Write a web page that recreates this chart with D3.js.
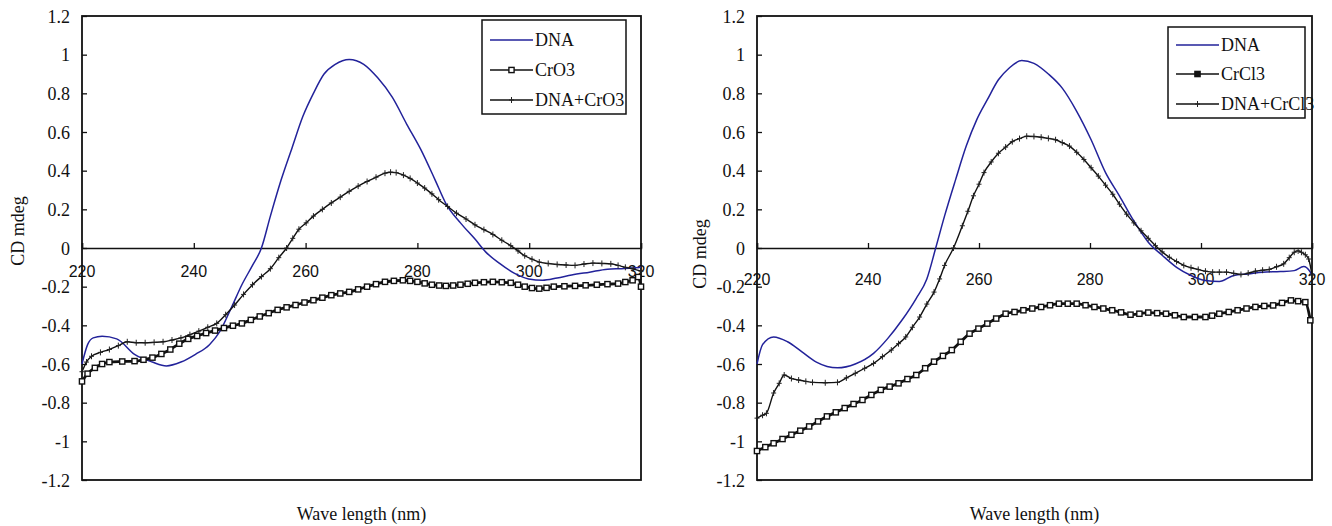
<!DOCTYPE html>
<html>
<head>
<meta charset="utf-8">
<script src="https://cdn.jsdelivr.net/npm/d3@7"></script>
<style>
  body { margin: 0; background: #fff; }
  svg { display: block; }
</style>
</head>
<body>
<svg id="chart" width="1332" height="526"></svg>
<script>
// Axis ticks shared by both panels
const yTickValues = [1.2, 1, 0.8, 0.6, 0.4, 0.2, 0, -0.2, -0.4, -0.6, -0.8, -1, -1.2];
const xTickValues = [220, 240, 260, 280, 300, 320];
const xTitle = "Wave length (nm)";
const yTitle = "CD mdeg";

// Left panel: DNA, CrO3, DNA+CrO3  ([wavelength nm, CD mdeg])
const dnaA = [
  [220,-0.60],[221,-0.50],[222,-0.465],[223.6,-0.457],[226.2,-0.47],[229.4,-0.55],[232.6,-0.59],
  [235.1,-0.61],[237.7,-0.59],[240.3,-0.55],[242.8,-0.50],[244.7,-0.43],[246.7,-0.31],
  [248.6,-0.19],[250.5,-0.09],[252.1,0],[253.7,0.165],[255.6,0.35],[257.6,0.52],[259.5,0.68],
  [261.4,0.80],[263.3,0.90],[265.3,0.95],[267.8,0.975],[270.4,0.95],[272.9,0.88],[275.5,0.78],
  [278.1,0.64],[280.6,0.51],[283.2,0.35],[285.1,0.23],[287.7,0.13],[290.3,0.046],[292.2,-0.02],
  [294.7,-0.08],[297.3,-0.13],[299.9,-0.16],[302.4,-0.167],[305,-0.155],[307.6,-0.14],
  [310.8,-0.125],[314,-0.11],[316.5,-0.107],[318.5,-0.104],[320,-0.10]
];
const crO3 = [
  [220,-0.69],[221,-0.65],[222.3,-0.62],[223.6,-0.60],[224.9,-0.59],[227.2,-0.587],[229.4,-0.585],
  [231,-0.578],[232.6,-0.567],[234.2,-0.548],[235.8,-0.525],[237.4,-0.495],[239,-0.47],
  [240.6,-0.455],[242.2,-0.44],[243.8,-0.427],[245.4,-0.414],[247,-0.402],[248.6,-0.39],
  [250.2,-0.372],[251.8,-0.354],[253.4,-0.337],[255,-0.32],[256.6,-0.307],[258.2,-0.295],
  [259.8,-0.282],[261.4,-0.27],[263,-0.257],[264.6,-0.244],[266.2,-0.235],[267.8,-0.227],
  [269.4,-0.214],[271,-0.20],[272.6,-0.187],[274.2,-0.175],[275.8,-0.17],[277.4,-0.167],
  [278.7,-0.17],[280,-0.175],[281.3,-0.183],[282.6,-0.19],[283.9,-0.194],[285.1,-0.196],
  [286.4,-0.194],[287.7,-0.19],[289,-0.185],[290.3,-0.18],[291.9,-0.177],[293.5,-0.175],
  [295.1,-0.177],[296.7,-0.18],[298,-0.19],[299.2,-0.20],[300.5,-0.207],[301.8,-0.21],
  [303.1,-0.206],[304.4,-0.20],[306.3,-0.198],[308.2,-0.196],[310.1,-0.193],[312.1,-0.19],
  [314,-0.187],[315.9,-0.184],[317.2,-0.176],[318.5,-0.167],[319.5,-0.15],[320,-0.20]
];
const dnaCrO3 = [
  [220,-0.64],[220.8,-0.59],[221.7,-0.56],[223.3,-0.54],[224.9,-0.525],[226.5,-0.505],
  [228.1,-0.485],[229.7,-0.49],[231.3,-0.49],[232.9,-0.488],[234.5,-0.485],[236.1,-0.476],
  [237.7,-0.465],[239.3,-0.448],[240.9,-0.43],[242.5,-0.41],[244.1,-0.39],[245.7,-0.345],
  [247.3,-0.295],[248.9,-0.24],[250.5,-0.19],[252.1,-0.148],[253.7,-0.107],[255.2,-0.05],
  [256.6,0],[257.7,0.05],[258.8,0.097],[260.1,0.13],[261.4,0.165],[263,0.2],[264.6,0.233],
  [266.2,0.263],[267.8,0.293],[269.4,0.32],[271,0.344],[272.6,0.366],[274.2,0.387],
  [275.2,0.392],[276.2,0.39],[277.5,0.377],[278.7,0.36],[280,0.336],[281.3,0.31],
  [282.6,0.28],[283.8,0.25],[285.4,0.215],[287,0.18],[288.7,0.15],[290.3,0.12],[291.9,0.095],
  [293.5,0.07],[295.1,0.04],[296.7,0.012],[298,-0.015],[299.2,-0.04],[300.5,-0.058],
  [301.8,-0.073],[303.4,-0.08],[305,-0.085],[306.6,-0.088],[308.2,-0.09],[309.8,-0.083],
  [311.4,-0.078],[313,-0.08],[314.6,-0.082],[315.9,-0.09],[317.2,-0.10],[318.6,-0.108],[320,-0.12]
];

// Right panel: DNA, CrCl3, DNA+CrCl3
const dnaB = [
  [220,-0.60],[221,-0.50],[223,-0.46],[225.5,-0.485],[228.1,-0.537],[230.7,-0.59],[234.5,-0.62],
  [237.7,-0.60],[241,-0.545],[243.5,-0.47],[246.1,-0.374],[248.7,-0.26],[250.6,-0.16],
  [252.2,0],[253.8,0.166],[255.8,0.355],[257.7,0.527],[259.6,0.664],[261.5,0.767],[263.5,0.87],
  [265.4,0.93],[267.7,0.97],[269.9,0.955],[272.5,0.90],[275,0.827],[277.6,0.707],[280.2,0.56],
  [282.8,0.39],[285.3,0.27],[287.9,0.14],[290.5,0.03],[293.1,-0.04],[295.6,-0.10],[298.2,-0.142],
  [300.8,-0.168],[303.3,-0.173],[305.9,-0.142],[308.5,-0.134],[311.1,-0.125],[314.3,-0.122],
  [316.8,-0.117],[318.5,-0.096],[319.7,-0.125],[320,-0.14]
];
const crCl3 = [
  [220,-1.05],[221.5,-1.03],[223,-1.01],[224.6,-0.988],[226.2,-0.966],[227.8,-0.945],
  [229.4,-0.923],[231,-0.897],[232.6,-0.871],[234.2,-0.85],[235.8,-0.828],[237.4,-0.807],
  [239,-0.786],[240.6,-0.76],[242.3,-0.734],[243.9,-0.717],[245.5,-0.70],[247.1,-0.678],
  [248.7,-0.657],[250.3,-0.622],[251.9,-0.588],[253.5,-0.558],[255.1,-0.528],[256.7,-0.485],
  [258.3,-0.443],[259.9,-0.417],[261.5,-0.391],[263.1,-0.365],[264.8,-0.34],[266.4,-0.331],
  [268,-0.322],[269.6,-0.313],[271.2,-0.305],[272.8,-0.296],[274.4,-0.288],[276,-0.288],
  [277.6,-0.288],[279.2,-0.296],[280.8,-0.305],[282.4,-0.313],[284,-0.322],[285.6,-0.333],
  [287.3,-0.345],[288.9,-0.34],[290.5,-0.334],[292.1,-0.337],[293.7,-0.34],[295.3,-0.348],
  [296.9,-0.357],[298.9,-0.357],[300.8,-0.357],[302,-0.35],[303.3,-0.34],[305,-0.331],
  [306.6,-0.322],[308.2,-0.313],[309.8,-0.305],[311.4,-0.30],[313,-0.297],[314.6,-0.284],
  [316.2,-0.271],[317.5,-0.275],[318.8,-0.28],[319.7,-0.374]
];
const dnaCrCl3 = [
  [220,-0.88],[221,-0.865],[221.7,-0.855],[223,-0.75],[224,-0.70],[224.9,-0.657],[226.2,-0.675],
  [227.5,-0.683],[228.8,-0.69],[230,-0.695],[232.3,-0.697],[234.5,-0.695],[236.1,-0.672],
  [237.7,-0.648],[239.4,-0.622],[241,-0.597],[242.6,-0.562],[244.2,-0.528],[245.5,-0.495],
  [246.8,-0.46],[248,-0.41],[249.3,-0.357],[250.6,-0.29],[251.9,-0.228],[252.9,-0.16],
  [253.8,-0.09],[255.4,0],[257,0.115],[258,0.19],[259,0.27],[260,0.33],[260.9,0.39],
  [262.2,0.445],[263.5,0.49],[264.8,0.522],[266,0.55],[267.3,0.566],[268.6,0.578],
  [269.9,0.577],[271.2,0.573],[272.5,0.567],[273.8,0.56],[275,0.545],[276.3,0.527],
  [277.6,0.495],[278.9,0.458],[280.2,0.415],[281.5,0.372],[282.8,0.325],[284.1,0.278],
  [285.3,0.227],[286.6,0.175],[287.9,0.13],[289.2,0.089],[290.5,0.05],[291.8,0.012],
  [293,-0.02],[294.3,-0.048],[295.6,-0.07],[296.9,-0.09],[298.2,-0.102],[299.5,-0.111],
  [300.8,-0.12],[302.1,-0.125],[303.3,-0.125],[304.6,-0.125],[305.9,-0.131],[307.2,-0.137],
  [308.5,-0.13],[309.8,-0.12],[311.1,-0.115],[312.3,-0.111],[313.6,-0.097],[314.9,-0.082],
  [315.9,-0.05],[316.8,-0.022],[317.5,-0.015],[318.1,-0.022],[318.8,-0.035],[319.4,-0.057],[320,-0.14]
];

const blue = "#22229a";
const serif = '"Liberation Serif", "DejaVu Serif", "Times New Roman", serif';
const sans = '"Liberation Sans", Arial, sans-serif';

const panels = [
  {
    left: 82, right: 641, top: 16, bottom: 480,
    xLabelY: 277, yLabelX: 70, yTitleX: 18, yTitleY: 231, xTitleY: 520,
    legend: { x: 482, y: 20, w: 144, h: 94, rows: [40, 70, 100] },
    series: [
      { name: "DNA", data: dnaA, kind: "plain" },
      { name: "CrO3", data: crO3, kind: "square" },
      { name: "DNA+CrO3", data: dnaCrO3, kind: "cross" }
    ]
  },
  {
    left: 757, right: 1312, top: 16, bottom: 480,
    xLabelY: 285, yLabelX: 745, yTitleX: 700, yTitleY: 254, xTitleY: 520,
    legend: { x: 1168, y: 27, w: 137, h: 91, rows: [45, 74, 104] },
    series: [
      { name: "DNA", data: dnaB, kind: "plain" },
      { name: "CrCl3", data: crCl3, kind: "square", legendFilled: true },
      { name: "DNA+CrCl3", data: dnaCrCl3, kind: "cross" }
    ]
  }
];

const svg = d3.select("#chart");

function drawMarkers(g, pts, kind, filled) {
  if (kind === "square") {
    g.selectAll("rect.m").data(pts).join("rect")
      .attr("class", "m")
      .attr("x", d => d[0] - 2.6).attr("y", d => d[1] - 2.6)
      .attr("width", 5.2).attr("height", 5.2)
      .attr("fill", filled ? "#111" : "#fff")
      .attr("stroke", "#111").attr("stroke-width", 1.4);
  } else if (kind === "cross") {
    g.selectAll("path.m").data(pts).join("path")
      .attr("class", "m")
      .attr("d", d => `M${d[0] - 2.5},${d[1]}H${d[0] + 2.5}M${d[0]},${d[1] - 3}V${d[1] + 3}`)
      .attr("stroke", "#222").attr("stroke-width", 1);
  }
}

panels.forEach(p => {
  const x = d3.scaleLinear().domain([220, 320]).range([p.left, p.right]);
  const y = d3.scaleLinear().domain([-1.2, 1.2]).range([p.bottom, p.top]);
  const g = svg.append("g").attr("font-family", serif);

  // Plot frame
  g.append("rect")
    .attr("x", p.left).attr("y", p.top)
    .attr("width", p.right - p.left).attr("height", p.bottom - p.top)
    .attr("fill", "none").attr("stroke", "#111").attr("stroke-width", 1.8);

  // Y axis: inward ticks, labels to the left
  const yAxis = d3.axisRight(y).tickValues(yTickValues).tickSize(5).tickFormat(d => String(d));
  const ya = g.append("g").attr("transform", `translate(${p.left},0)`).call(yAxis)
    .attr("font-family", serif).attr("font-size", 18);
  ya.select(".domain").remove();
  ya.selectAll(".tick line").attr("stroke", "#111").attr("stroke-width", 1.3);
  ya.selectAll(".tick text")
    .attr("x", p.yLabelX - p.left).attr("dy", "0.35em")
    .attr("text-anchor", "end")
    .attr("fill", "#111");

  // Zero line with upward ticks
  const xAxis = d3.axisTop(x).tickValues(xTickValues).tickSize(5).tickFormat("");
  const xa = g.append("g").attr("transform", `translate(0,${y(0)})`).call(xAxis);
  xa.select(".domain").attr("stroke", "#111").attr("stroke-width", 1.5);
  xa.selectAll(".tick line").attr("stroke", "#111").attr("stroke-width", 1.3);

  // X tick labels just under the zero line
  g.append("g").attr("font-family", sans).attr("font-size", 16)
    .selectAll("text").data(xTickValues).join("text")
    .attr("x", d => x(d)).attr("y", p.xLabelY)
    .attr("text-anchor", "middle").attr("fill", "#111")
    .text(d => d);

  // Series
  const line = d3.line().x(d => x(d[0])).y(d => y(d[1])).curve(d3.curveMonotoneX);
  p.series.forEach(s => {
    const sg = g.append("g");
    if (s.kind === "plain") {
      sg.append("path").attr("d", line(s.data))
        .attr("fill", "none").attr("stroke", blue).attr("stroke-width", 1.5);
    } else {
      sg.append("path").attr("d", line(s.data))
        .attr("fill", "none").attr("stroke", "#111")
        .attr("stroke-width", s.kind === "square" ? 2.8 : 1.4);
      drawMarkers(sg, s.data.map(d => [x(d[0]), y(d[1])]), s.kind, false);
    }
  });

  // Legend
  const L = p.legend;
  const lg = g.append("g");
  lg.append("rect").attr("x", L.x).attr("y", L.y).attr("width", L.w).attr("height", L.h)
    .attr("fill", "#fff").attr("stroke", "#111").attr("stroke-width", 1.5);
  p.series.forEach((s, i) => {
    const ry = L.rows[i];
    const x0 = L.x + 8, x1 = L.x + 51;
    lg.append("line").attr("x1", x0).attr("x2", x1).attr("y1", ry).attr("y2", ry)
      .attr("stroke", s.kind === "plain" ? blue : "#111").attr("stroke-width", 1.4);
    if (s.kind !== "plain") {
      drawMarkers(lg.append("g"), [[(x0 + x1) / 2, ry]], s.kind, !!s.legendFilled);
    }
    lg.append("text").attr("x", x1 + 2).attr("y", ry).attr("dy", "0.35em")
      .attr("font-size", 18).attr("fill", "#111").text(s.name);
  });

  // Axis titles
  g.append("text")
    .attr("transform", `translate(${p.yTitleX},${p.yTitleY}) rotate(-90)`)
    .attr("text-anchor", "middle").attr("dy", "0.35em")
    .attr("font-size", 18).attr("fill", "#111").text(yTitle);
  g.append("text")
    .attr("x", (p.left + p.right) / 2).attr("y", p.xTitleY)
    .attr("text-anchor", "middle")
    .attr("font-size", 18).attr("fill", "#111").text(xTitle);
});
</script>
</body>
</html>
